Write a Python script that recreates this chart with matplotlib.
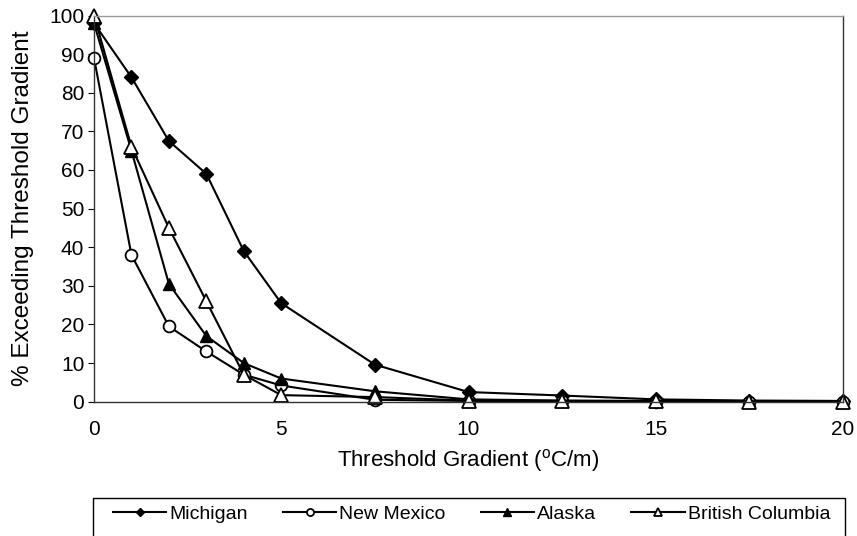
import matplotlib
matplotlib.use("Agg")
import matplotlib.pyplot as plt
from matplotlib.patches import Rectangle

plt.rcParams['font.family'] = ['Liberation Sans', 'DejaVu Sans']
plt.rcParams['mathtext.fontset'] = 'custom'
plt.rcParams['mathtext.rm'] = 'Liberation Sans'

x = [0, 1, 2, 3, 4, 5, 7.5, 10, 12.5, 15, 17.5, 20]
michigan = [98, 84, 67.5, 59, 39, 25.5, 9.6, 2.5, 1.6, 0.6, 0.3, 0.2]
new_mexico = [89, 38, 19.5, 13, 7, 4.2, 0.5, 0.2, 0.1, 0.05, 0, 0]
alaska = [98, 65, 30.5, 17, 10, 6, 2.7, 0.6, 0.3, 0.2, 0.1, 0]
british_columbia = [100, 66, 45, 26, 7, 1.7, 1.2, 0.3, 0.2, 0.1, 0, 0]

xticks = [0, 5, 10, 15, 20]
yticks = list(range(0, 101, 10))

W, H = 857, 536
fig = plt.figure(figsize=(W/100, H/100), dpi=100)
ax = fig.add_axes([94/W, 1-401.7/H, (843-94)/W, (401.7-15.5)/H])

lw = 1.5
ax.plot(x, michigan, color='black', lw=lw, marker='D', ms=7, mfc='black', mec='black', label='Michigan', clip_on=False)
ax.plot(x, new_mexico, color='black', lw=lw, marker='o', ms=8.5, mfc='white', mec='black', mew=1.3, label='New Mexico', clip_on=False)
ax.plot(x, alaska, color='black', lw=lw, marker='^', ms=9, mfc='black', mec='black', label='Alaska', clip_on=False)
ax.plot(x, british_columbia, color='black', lw=lw, marker='^', ms=9.5, mfc='white', mec='black', mew=1.3, label='British Columbia', clip_on=False)

ax.set_xlim(0, 20)
ax.set_ylim(0, 100)
ax.set_xticks(xticks)
ax.set_yticks(yticks)
ax.tick_params(axis='x', length=0, labelsize=15, pad=13)
ax.tick_params(axis='y', direction='out', length=4, labelsize=15, pad=3)
for s in ax.spines.values():
    s.set_linewidth(1.0)
    s.set_color('#333333')
ax.spines['top'].set_color('#999999')

ax.set_xlabel('Threshold Gradient ($^{\\rm o}$C/m)', fontsize=16, labelpad=6)
ax.set_ylabel('% Exceeding Threshold Gradient', fontsize=17.5, labelpad=11)

# legend frame (open at the bottom, cut by the figure edge)
fig.patches.append(Rectangle((93/W, -0.05), (845-93)/W, 1-498/H + 0.05,
                             transform=fig.transFigure, fill=False,
                             edgecolor='black', linewidth=1.0))
handles, labels = ax.get_legend_handles_labels()
leg = fig.legend(handles, labels, loc='center left', bbox_to_anchor=(113/W, 1-514/H),
                 ncol=4, frameon=False, fontsize=14, handlelength=2.75,
                 handletextpad=0.15, columnspacing=1.8, borderpad=0, borderaxespad=0,
                 markerscale=0.6)

fig.savefig('out.png', dpi=100)
